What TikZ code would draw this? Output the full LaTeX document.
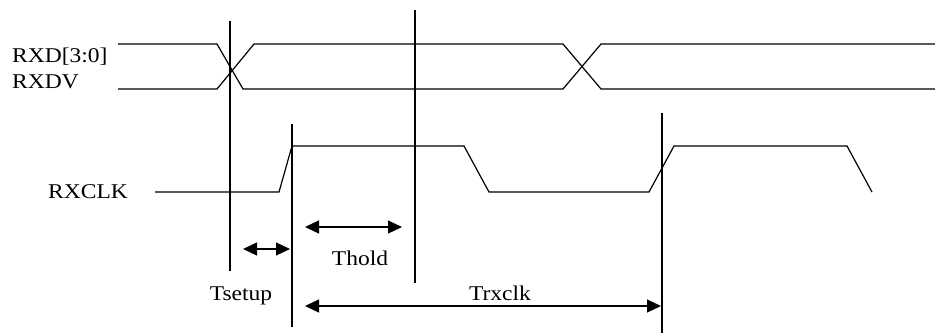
\documentclass[tikz,border=0pt]{standalone}
\usepackage{fontspec}
\setmainfont{Liberation Serif}
\usetikzlibrary{arrows.meta}
\newcommand{\widetext}[1]{\scalebox{1.12}[1]{#1}}
\tikzset{
	sig/.style={line width=1.2pt, line join=miter},
	mark line/.style={line width=1.2pt},
	timing/.style={line width=1.2pt, {Triangle[length=14pt,width=13pt]}-{Triangle[length=14pt,width=13pt]}},
	lbl/.style={font=\fontsize{21}{25}\selectfont, inner sep=0pt}
}
\begin{document}
\begin{tikzpicture}[x=1pt, y=-1pt]
			\useasboundingbox (0,0) rectangle (935,333);
			% data lines
			\draw[sig] (118,44) -- (217,44) -- (243,89) -- (563,89) -- (601,44) -- (935,44);
			\draw[sig] (118,89) -- (217,89) -- (254,44) -- (563,44) -- (601,89) -- (935,89);
			% clock
			\draw[sig] (155,192) -- (279,192) -- (292,146) -- (464,146) -- (489,192) -- (649,192) -- (674,146) -- (847,146) -- (872,192);
			% markers
			\draw[mark line] (230,21) -- (230,271);
			\draw[mark line] (415,10) -- (415,283);
			\draw[mark line] (292,124) -- (292,327);
			\draw[mark line] (662,113) -- (662,333);
			% timings
			\coordinate (setupA) at (243,249);
			\coordinate (setupB) at (290,249);
			\coordinate (holdA) at (305,227);
			\coordinate (holdB) at (402,227);
			\coordinate (clkA) at (305,306);
			\coordinate (clkB) at (661,306);
			\draw[timing] (setupA) -- (setupB);
			\draw[timing] (holdA) -- (holdB);
			\draw[timing] (clkA) -- (clkB);
			% labels
			\node[lbl, anchor=base west] (rxd) at (12,62) {\widetext{RXD[3:0]}};
			\node[lbl, anchor=base west] (rxdv) at (12,88) {\widetext{RXDV}};
			\node[lbl, anchor=base west] (rxclk) at (48,198) {\widetext{RXCLK}};
			\node[lbl, anchor=base] (tsetup) at (241,300) {\widetext{Tsetup}};
			\node[lbl, anchor=base] (thold) at (360,265) {\widetext{Thold}};
			\node[lbl, anchor=base] (trxclk) at (500,300) {\widetext{Trxclk}};
		\end{tikzpicture}
\end{document}
